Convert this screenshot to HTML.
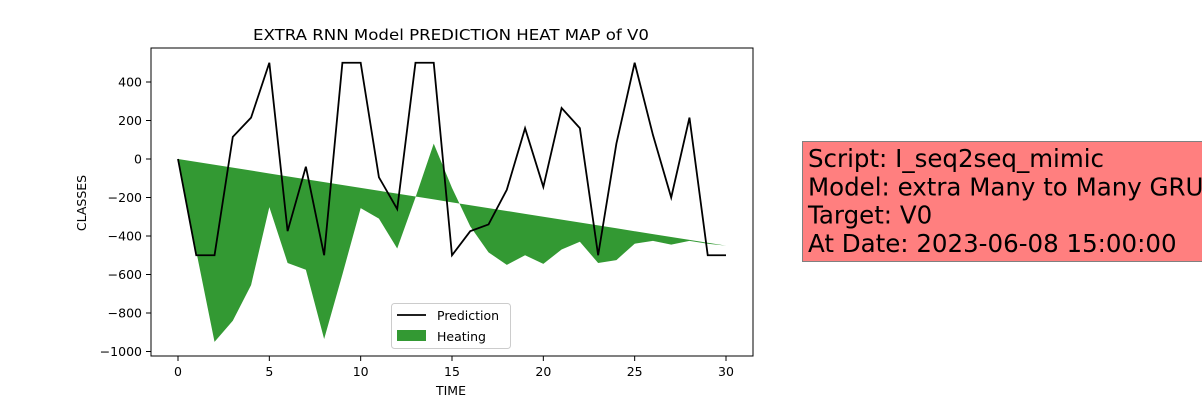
<!DOCTYPE html>
<html><head><meta charset="utf-8"><style>
body{margin:0;background:#fff;width:1202px;height:400px;overflow:hidden;font-family:"Liberation Sans","DejaVu Sans",sans-serif;}
</style></head><body>
<svg id="c" width="1202" height="400" xmlns="http://www.w3.org/2000/svg" font-family="DejaVu Sans, Liberation Sans, sans-serif"></svg>
<script>
const xs = [0,1,2,3,4,5,6,7,8,9,10,11,12,13,14,15,16,17,18,19,20,21,22,23,24,25,26,27,28,29,30];
const prediction = [0,-500,-500,115,215,500,-375,-40,-500,500,500,-95,-260,500,500,-500,-375,-340,-160,160,-145,265,160,-500,80,500,125,-200,215,-500,-500];
const heating = [0,-480,-950,-840,-655,-250,-540,-575,-935,-600,-255,-310,-465,-200,80,-150,-350,-485,-550,-500,-545,-470,-430,-540,-525,-440,-425,-445,-425,-440,-450];
const trendStart = 0, trendEnd = -450;
const xTicks = [0,5,10,15,20,25,30];
const yTicks = [400,200,0,-200,-400,-600,-800,-1000];

const NS='http://www.w3.org/2000/svg';
const svg=document.getElementById('c');
function mk(t,a,txt){const e=document.createElementNS(NS,t);for(const k in a)e.setAttribute(k,a[k]);if(txt!==undefined)e.textContent=txt;svg.appendChild(e);return e;}
const X=v=>178+v*(726-178)/30;
const Y=v=>159-v*0.1925;
const trend=xs.map((x,i)=>trendStart+(trendEnd-trendStart)*x/30);

let t=mk('text',{x:451,y:40,'text-anchor':'middle','font-size':15,fill:'#000',textLength:396,lengthAdjust:'spacingAndGlyphs'},'EXTRA RNN Model PREDICTION HEAT MAP of V0');



let d='M'+xs.map((x,i)=>X(x)+','+Y(trend[i])).join('L');
d+='L'+xs.slice().reverse().map((x,j)=>X(x)+','+Y(heating[xs.length-1-j])).join('L')+'Z';
let f=mk('path',{d:d,fill:'#339933',stroke:'none'});



let p=mk('polyline',{points:xs.map((x,i)=>X(x)+','+Y(prediction[i])).join(' '),fill:'none',stroke:'#000','stroke-width':1.8});



let fr=mk('rect',{x:151,y:48,width:602,height:308,fill:'none',stroke:'#000','stroke-width':1});



xTicks.forEach(v=>{
  const l=mk('line',{x1:X(v),x2:X(v),y1:356,y2:361,stroke:'#000'});
  
  
  const tx=mk('text',{x:X(v),y:376,'text-anchor':'middle','font-size':12.5},String(v));
  
  
});
yTicks.forEach(v=>{
  const l=mk('line',{x1:146,x2:151,y1:Y(v),y2:Y(v),stroke:'#000'});
  
  
  const tx=mk('text',{x:142,y:Y(v)+4.5,'text-anchor':'end','font-size':12.5},(v<0?'\u2212':'')+Math.abs(v));
  
  
});
t=mk('text',{x:451,y:395,'text-anchor':'middle','font-size':12.5},'TIME');


t=mk('text',{x:86,y:203,'text-anchor':'middle','font-size':12.5,transform:'rotate(-90 86 203)'},'CLASSES');



let lg=mk('rect',{x:391.5,y:303.5,width:119,height:45,rx:3,fill:'#fff','fill-opacity':0.8,stroke:'#ccc'});


let ll=mk('line',{x1:397,x2:426,y1:315,y2:315,stroke:'#000','stroke-width':1.8});


t=mk('text',{x:437,y:320,'font-size':12.5},'Prediction');


let lr=mk('rect',{x:397,y:330,width:29,height:11,fill:'#339933'});


t=mk('text',{x:437,y:341,'font-size':12.5},'Heating');



let bx=mk('rect',{x:802.5,y:141.5,width:420,height:120,fill:'#ff7f7f',stroke:'#808080'});


['Script: I_seq2seq_mimic','Model: extra Many to Many GRU','Target: V0','At Date: 2023-06-08 15:00:00'].forEach((s,i)=>{
  const e=mk('text',{x:808,y:167+i*28.3,'font-size':24.5},s);
  
  
});
</script>
</body></html>
